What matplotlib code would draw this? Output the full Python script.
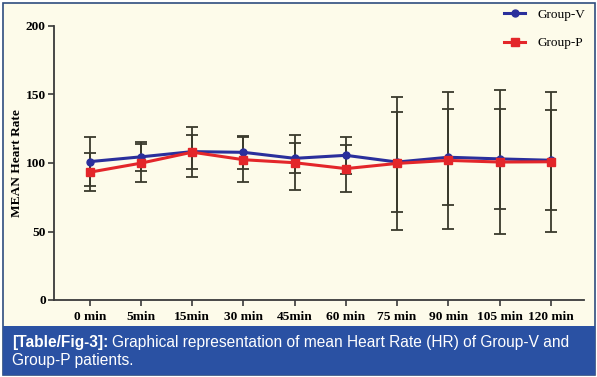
import matplotlib.pyplot as plt
from matplotlib.patches import Rectangle

# data
time_labels = ['0 min', '5min', '15min', '30 min', '45min', '60 min',
               '75 min', '90 min', '105 min', '120 min']
group_v_mean = [101.0, 104.5, 108.3, 107.8, 103.4, 105.6, 100.7, 104.2, 103.0, 102.0]
group_v_sd = [17.7, 10.7, 12.5, 12.2, 11.0, 13.4, 36.5, 35.2, 36.4, 36.6]
group_p_mean = [93.3, 99.9, 107.9, 102.4, 100.2, 95.9, 99.7, 101.9, 100.7, 100.9]
group_p_sd = [14.1, 14.0, 18.4, 16.6, 20.0, 17.2, 48.3, 50.0, 52.5, 51.0]

W, H = 597, 377
cream = '#fdfbea'
band = '#2a51a3'
bar_col = '#3a3a2c'

fig = plt.figure(figsize=(W / 100, H / 100), dpi=100)
fig.patch.set_facecolor('white')

# outer frame and caption band
fig.patches.append(Rectangle((2.5 / W, 2 / H), 592.5 / W, 372.5 / H, transform=fig.transFigure,
                             facecolor=cream, edgecolor='#2f4d7e', linewidth=1.2, zorder=0))
fig.patches.append(Rectangle((2.5 / W, 2 / H), 592.5 / W, 49 / H, transform=fig.transFigure,
                             facecolor=band, edgecolor='none', zorder=1))

ax = fig.add_axes([54 / W, 1 - 300 / H, (584 - 54) / W, (300 - 26) / H])
ax.set_zorder(3)
ax.set_facecolor('none')
x = list(range(len(time_labels)))

ax.errorbar(x, group_v_mean, yerr=group_v_sd, fmt='none', ecolor=bar_col,
            elinewidth=1.3, capsize=4, capthick=1.3, zorder=2)
ax.errorbar(x, group_p_mean, yerr=group_p_sd, fmt='none', ecolor=bar_col,
            elinewidth=1.3, capsize=4, capthick=1.3, zorder=2)
ax.plot(x, group_v_mean, color='#2a2f9c', marker='o', ms=5, lw=2.2, label='Group-V', zorder=3)
ax.plot(x, group_p_mean, color='#e3262a', marker='s', ms=5.5, lw=2.2, label='Group-P', zorder=4)

ax.set_xlim(-0.7, 9.65)
ax.set_ylim(0, 200)
ax.set_yticks([0, 50, 100, 150, 200])
ax.set_xticks(x)
ax.set_xticklabels(time_labels)
for s in ['top', 'right']:
    ax.spines[s].set_visible(False)
for s in ['left', 'bottom']:
    ax.spines[s].set_color('#3a3a3a')
    ax.spines[s].set_linewidth(1.3)
ax.tick_params(direction='out', length=4, width=1.2, color='#3a3a3a', pad=2)
ax.tick_params(axis='x', pad=4)
for lab in ax.get_xticklabels() + ax.get_yticklabels():
    lab.set_fontfamily('Liberation Serif')
    lab.set_fontweight('bold')
    lab.set_fontsize(9.6)
ax.set_ylabel('MEAN Heart Rate', fontfamily='Liberation Serif', fontweight='bold', fontsize=9.6)
ax.yaxis.set_label_coords(-0.058, 0.5)

leg = fig.legend(loc='upper right', bbox_to_anchor=(597 / W, 1 + 3 / H), frameon=False,
                 prop={'family': 'Liberation Serif', 'size': 9.5}, handlelength=1.6,
                 labelspacing=1.2, handletextpad=0.9)
leg.set_zorder(5)

# caption
cap_size = 11.2
t1 = fig.text(12 / W, 1 - 347 / H, '[Table/Fig-3]:', color='white', fontsize=cap_size,
              fontfamily='Liberation Sans', fontweight='bold', va='baseline', zorder=5)
fig.canvas.draw()
bb = t1.get_window_extent(renderer=fig.canvas.get_renderer())
fig.text((bb.x1 + 4) / W, 1 - 347 / H,
         'Graphical representation of mean Heart Rate (HR) of Group-V and',
         color='white', fontsize=cap_size, fontfamily='Liberation Sans', va='baseline', zorder=5)
fig.text(12 / W, 1 - 365 / H, 'Group-P patients.', color='white', fontsize=cap_size,
         fontfamily='Liberation Sans', va='baseline', zorder=5)

fig.savefig('out.png', dpi=100, facecolor=fig.get_facecolor())
